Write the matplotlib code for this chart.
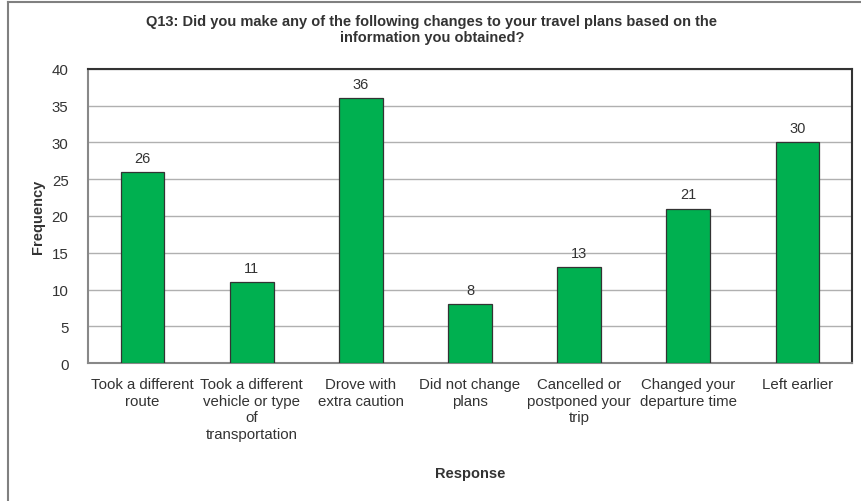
import matplotlib
matplotlib.use("Agg")
import matplotlib.pyplot as plt
from matplotlib.lines import Line2D

plt.rcParams['font.family'] = ['Liberation Sans', 'DejaVu Sans']

categories = [
    "Took a different\nroute",
    "Took a different\nvehicle or type\nof\ntransportation",
    "Drove with\nextra caution",
    "Did not change\nplans",
    "Cancelled or\npostponed your\ntrip",
    "Changed your\ndeparture time",
    "Left earlier",
]
frequency = [26, 11, 36, 8, 13, 21, 30]
y_ticks = [0, 5, 10, 15, 20, 25, 30, 35, 40]

W, H = 862, 502
fig = plt.figure(figsize=(W / 100, H / 100), dpi=100)
fig.patch.set_facecolor("white")

# outer chart border (top and left edges)
fig.add_artist(Line2D([8 / W, 1.0], [1 - 3 / H, 1 - 3 / H], color="#808080", lw=1.5))
fig.add_artist(Line2D([8 / W, 8 / W], [0.0, 1 - 3 / H], color="#808080", lw=1.5))

left, right, top, bottom = 88, 852, 70, 364
ax = fig.add_axes([left / W, 1 - bottom / H, (right - left) / W, (bottom - top) / H])

x = list(range(len(categories)))
ax.bar(x, frequency, width=0.4, color="#00B050", edgecolor="#333333", linewidth=0.9, zorder=3)
for xi, v in zip(x, frequency):
    ax.text(xi, v + 1.0, str(v), ha="center", va="bottom", fontsize=10.5, color="#333333")

ax.set_xlim(-0.5, len(categories) - 0.5)
ax.set_ylim(0, 40)
ax.set_yticks(y_ticks)
ax.set_xticks(x)
ax.set_xticklabels(categories, fontsize=10.8, color="#333333", linespacing=1.25)
ax.tick_params(axis="x", length=0, pad=10)
ax.tick_params(axis="y", length=0, pad=14, labelsize=10.8, labelcolor="#333333")
ax.grid(axis="y", color="#B0B0B0", linewidth=1.0, zorder=0)

for side in ("top", "right"):
    ax.spines[side].set_color("#333333")
    ax.spines[side].set_linewidth(1.5)
for side in ("left", "bottom"):
    ax.spines[side].set_color("#888888")
    ax.spines[side].set_linewidth(1.5)

fig.text(470 / W, 1 - 474 / H, "Response", ha="center", va="center",
         fontsize=10.5, fontweight="bold", color="#333333")
fig.text(38 / W, 1 - 217 / H, "Frequency", ha="center", va="center", rotation=90,
         fontsize=10.5, fontweight="bold", color="#333333")
fig.text(432 / W, 1 - 30 / H,
         "Q13: Did you make any of the following changes to your travel plans based on the\ninformation you obtained?",
         ha="center", va="center", fontsize=10.5, fontweight="bold", color="#333333",
         linespacing=1.1)

fig.savefig("out.png", dpi=100)
